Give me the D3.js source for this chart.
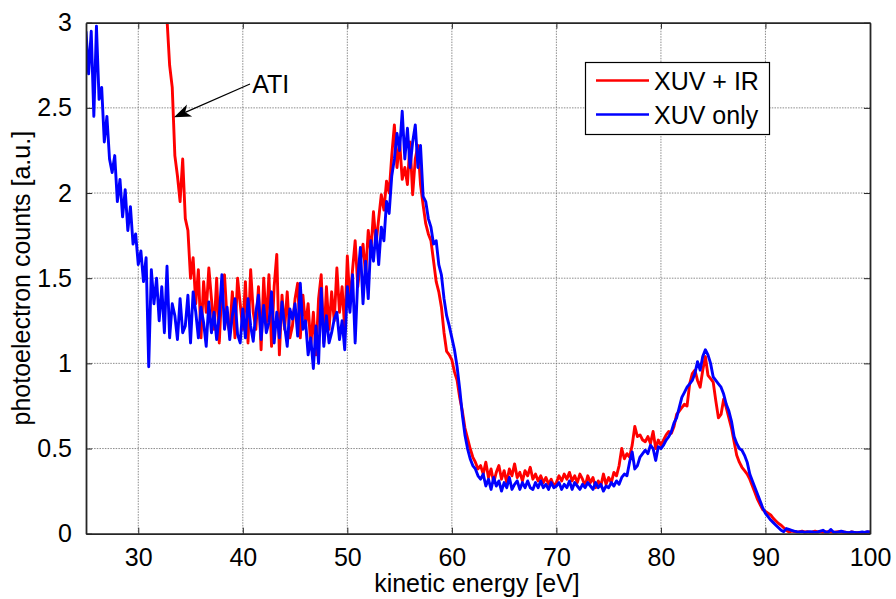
<!DOCTYPE html>
<html><head><meta charset="utf-8">
<script src="https://cdn.jsdelivr.net/npm/d3@7"></script>
<style>
body{margin:0;background:#fff;}
svg text{font-family:"Liberation Sans",Arial,sans-serif;fill:#000;}
</style></head><body>
<svg id="chart" width="896" height="599"></svg>
<script>
// ---------- data (energy grid step 0.25 eV) ----------
const energyStep = 0.25;
const xuvOnlyStart = 25;
const xuvOnly = [
 2.95,2.70,2.95,2.45, 2.98,2.55,2.62,2.30, 2.45,2.20,2.12,2.22, 1.95,2.08,1.86,2.02, // 25-28
 1.78,1.92,1.70,1.76, 1.58,1.66,1.48,1.62, 0.98,1.55,1.35,1.50, 1.25,1.45,1.18,1.57, // 29-32
 1.15,1.35,1.28,1.14, 1.38,1.18,1.22,1.40, 1.12,1.42,1.30,1.15, 1.33,1.24,1.10,1.36, // 33-36
 1.18,1.30,1.14,1.28, 1.52,1.20,1.33,1.14, 1.28,1.38,1.17,1.12, 1.32,1.15,1.38,1.22, // 37-40
 1.13,1.30,1.40,1.14, 1.34,1.18,1.24,1.42, 1.12,1.30,1.15,1.36, 1.22,1.10,1.32,1.26, // 41-44
 1.35,1.16,1.47,1.20, 1.25,1.05,1.15,0.97, 1.22,1.00,1.44,1.10, 1.28,1.12,1.18,1.26, // 45-48
 1.30,1.14,1.25,1.08, 1.45,1.30,1.52,1.12, 1.50,1.68,1.35,1.60, 1.38,1.72,1.60,1.78, // 49-52
 1.58,1.80,1.72,1.95, 1.88,2.10,2.20,2.35, 2.25,2.48,2.20,2.38, 2.15,2.30,2.40,2.15, // 53-56
 2.28,1.98,1.95,1.85, 1.80,1.70,1.72,1.58, 1.52,1.38,1.28,1.22, 1.15,1.08,0.98,0.85, // 57-60
 0.70,0.58,0.50,0.44, 0.40,0.38,0.34,0.32, 0.35,0.28,0.32,0.26, 0.33,0.28,0.31,0.25, // 61-64
 0.30,0.27,0.33,0.26, 0.29,0.31,0.26,0.30, 0.27,0.31,0.27,0.26, 0.30,0.27,0.31,0.27, // 65-68
 0.29,0.26,0.30,0.27, 0.28,0.30,0.26,0.29, 0.27,0.31,0.26,0.30, 0.28,0.26,0.29,0.27, // 69-72
 0.30,0.28,0.26,0.30, 0.27,0.29,0.25,0.28, 0.27,0.30,0.28,0.31, 0.29,0.33,0.35,0.34, // 73-76
 0.42,0.48,0.38,0.40, 0.45,0.47,0.49,0.47, 0.52,0.50,0.43,0.51, 0.50,0.52,0.55,0.57, // 77-80
 0.60,0.65,0.68,0.74, 0.80,0.83,0.86,0.88, 0.90,0.94,1.01,0.96, 1.04,1.08,1.05,1.00, // 81-84
 0.92,0.90,0.88,0.86, 0.82,0.76,0.72,0.66, 0.57,0.53,0.50,0.49, 0.46,0.42,0.35,0.31, // 85-88
 0.27,0.23,0.19,0.15, 0.12,0.10,0.08,0.065, 0.05,0.035,0.02,0.012, 0.03,0.025,0.02,0.015, // 89-92
 0.012,0.01,0.012,0.008, 0.01,0.012,0.01,0.008, 0.01,0.015,0.02,0.01, 0.008,0.025,0.01,0.008, // 93-96
 0.01,0.015,0.01,0.008, 0.006,0.01,0.008,0.006, 0.008,0.01,0.008,0.012, 0.01 // 97-100
];
const xuvIRStart = 32.75;
const xuvIR = [
 3.02, // 32.75
 2.75,2.62,2.22,2.10, 1.95,2.20,1.85,1.78, 1.50,1.62,1.35,1.55, 1.15,1.48,1.30,1.56, // 33-36
 1.38,1.20,1.50,1.12, 1.45,1.52,1.25,1.18, 1.42,1.15,1.50,1.35, 1.20,1.48,1.12,1.55, // 37-40
 1.30,1.20,1.45,1.08, 1.50,1.22,1.52,1.10, 1.45,1.64,1.05,1.40, 1.20,1.42,1.15,1.22, // 41-44
 1.38,1.47,1.15,1.40, 1.22,1.35,1.10,1.30, 1.05,1.38,1.52,1.12, 1.45,1.20,1.42,1.25, // 45-48
 1.56,1.30,1.45,1.20, 1.63,1.35,1.55,1.72, 1.45,1.60,1.70,1.52, 1.78,1.65,1.89,1.70, // 49-52
 1.85,1.99,1.90,2.07, 2.00,2.22,2.40,2.15, 2.30,2.08,2.15,2.05, 2.30,1.99,2.20,2.28, // 53-56
 2.05,1.93,1.82,1.76, 1.72,1.60,1.48,1.42, 1.33,1.18,1.07,1.05, 1.02,0.95,0.90,0.80, // 57-60
 0.72,0.62,0.56,0.50, 0.45,0.42,0.38,0.40, 0.35,0.42,0.33,0.38, 0.30,0.36,0.40,0.32, // 61-64
 0.37,0.30,0.38,0.34, 0.41,0.33,0.36,0.31, 0.37,0.34,0.39,0.32, 0.35,0.31,0.34,0.30, // 65-68
 0.33,0.29,0.32,0.28, 0.30,0.34,0.31,0.35, 0.32,0.36,0.31,0.34, 0.30,0.35,0.32,0.28, // 69-72
 0.34,0.30,0.33,0.27, 0.31,0.28,0.35,0.29, 0.33,0.30,0.36,0.34, 0.40,0.50,0.44,0.47, // 73-76
 0.45,0.52,0.63,0.57, 0.58,0.55,0.54,0.57, 0.53,0.60,0.50,0.55, 0.52,0.55,0.58,0.60, // 77-80
 0.59,0.63,0.70,0.72, 0.74,0.76,0.75,0.88, 0.94,0.96,0.90,0.86, 0.96,1.04,0.93,0.91, // 81-84
 0.89,0.78,0.68,0.70, 0.79,0.74,0.68,0.62, 0.54,0.46,0.42,0.39, 0.37,0.35,0.32,0.28, // 85-88
 0.24,0.20,0.17,0.14, 0.13,0.12,0.11,0.09, 0.075,0.06,0.05,0.035, 0.02,0.01,0.015,0.012, // 89-92
 0.01,0.012,0.015,0.01, 0.012,0.008,0.01,0.015, 0.01,0.012,0.008,0.01, 0.012,0.01,0.008,0.01, // 93-96
 0.012,0.008,0.01,0.008, 0.006,0.01,0.008,0.006, 0.008,0.006,0.008,0.01, 0.008 // 97-100
];
const xTickValues = [30,40,50,60,70,80,90,100];
const yTickValues = [0,0.5,1,1.5,2,2.5,3];
const yTickLabels = ["0","0.5","1","1.5","2","2.5","3"];
const seriesNames = ["XUV + IR","XUV only"];
const seriesColors = ["#ff0000","#0000ff"];
const xLabel = "kinetic energy [eV]";
const yLabel = "photoelectron counts [a.u.]";
const annotText = "ATI";
const annotTip = [33.42, 2.445];
const annotTail = [40.69, 2.64];
const annotTextPos = [40.9, 2.585];

// ---------- layout ----------
const W = 896, H = 599;
const plot = {left: 86, right: 870, top: 22.7, bottom: 533.7};
const svg = d3.select("#chart");
const x = d3.scaleLinear().domain([25,100]).range([plot.left, plot.right]);
const y = d3.scaleLinear().domain([0,3]).range([plot.bottom, plot.top]);
const FS = 25;

function toPoints(start, arr){ return arr.map((v,i)=>[start + i*energyStep, v]); }
const redPts = toPoints(xuvIRStart, xuvIR);
const bluePts = toPoints(xuvOnlyStart, xuvOnly);

svg.append("rect").attr("width",W).attr("height",H).attr("fill","#fff");

// grid
const grid = svg.append("g").attr("stroke","#404040").attr("stroke-width",0.8).attr("stroke-dasharray","1.5,1.2").attr("opacity",0.75);
grid.selectAll("line.v").data(xTickValues.filter(d=>d<100)).join("line")
  .attr("x1",d=>x(d)).attr("x2",d=>x(d)).attr("y1",plot.top).attr("y2",plot.bottom);
grid.selectAll("line.h").data(yTickValues.filter(d=>d>0&&d<3)).join("line")
  .attr("x1",plot.left).attr("x2",plot.right).attr("y1",d=>y(d)).attr("y2",d=>y(d));

svg.append("clipPath").attr("id","clip").append("rect")
  .attr("x",plot.left).attr("y",plot.top).attr("width",plot.right-plot.left).attr("height",plot.bottom-plot.top);

const line = d3.line().x(d=>x(d[0])).y(d=>y(d[1]));
const lines = svg.append("g").attr("clip-path","url(#clip)");
lines.append("path").datum(redPts).attr("d",line).attr("fill","none")
  .attr("stroke",seriesColors[0]).attr("stroke-width",2.9).attr("stroke-linejoin","round");
lines.append("path").datum(bluePts).attr("d",line).attr("fill","none")
  .attr("stroke",seriesColors[1]).attr("stroke-width",2.9).attr("stroke-linejoin","round");

// axes (box with inward ticks)
const tickLen = 6;
const axisColor = "#262626";
const xb = svg.append("g").attr("transform",`translate(0,${plot.bottom})`)
  .call(d3.axisBottom(x).tickValues(xTickValues).tickSizeInner(-tickLen).tickSizeOuter(0).tickPadding(15));
const xt = svg.append("g").attr("transform",`translate(0,${plot.top})`)
  .call(d3.axisTop(x).tickValues(xTickValues).tickSizeInner(-tickLen).tickSizeOuter(0).tickFormat(""));
const yl = svg.append("g").attr("transform",`translate(${plot.left},0)`)
  .call(d3.axisLeft(y).tickValues(yTickValues).tickFormat((d,i)=>yTickLabels[i]).tickSizeInner(-tickLen).tickSizeOuter(0).tickPadding(14));
const yr = svg.append("g").attr("transform",`translate(${plot.right},0)`)
  .call(d3.axisRight(y).tickValues(yTickValues).tickSizeInner(-tickLen).tickSizeOuter(0).tickFormat(""));
[xb,xt,yl,yr].forEach(g=>{
  g.selectAll("path.domain").attr("stroke",axisColor).attr("stroke-width",1.8);
  g.selectAll(".tick line").attr("stroke",axisColor).attr("stroke-width",1);
  g.selectAll("text").attr("font-size",FS).attr("font-family","Liberation Sans, Arial, sans-serif").attr("fill","#000");
});
xb.selectAll("text").attr("dy","0.71em");

// axis labels
svg.append("text").attr("x",(plot.left+plot.right)/2 - 1).attr("y",592).attr("text-anchor","middle")
  .attr("font-size",FS).text(xLabel);
svg.append("text").attr("transform",`translate(30,${(plot.top+plot.bottom)/2}) rotate(-90)`)
  .attr("text-anchor","middle").attr("font-size",FS).text(yLabel);

// annotation arrow
const tip = [x(annotTip[0]), y(annotTip[1])];
const tail = [x(annotTail[0]), y(annotTail[1])];
const ang = Math.atan2(tip[1]-tail[1], tip[0]-tail[0]);
const headL = 17, headW = 6.5;
const base = [tip[0]-headL*Math.cos(ang), tip[1]-headL*Math.sin(ang)];
const notch = [tip[0]-headL*0.72*Math.cos(ang), tip[1]-headL*0.72*Math.sin(ang)];
svg.append("line").attr("x1",tail[0]).attr("y1",tail[1]).attr("x2",notch[0]).attr("y2",notch[1])
  .attr("stroke","#000").attr("stroke-width",1.2);
const p1 = [base[0]+headW*Math.sin(ang), base[1]-headW*Math.cos(ang)];
const p2 = [base[0]-headW*Math.sin(ang), base[1]+headW*Math.cos(ang)];
svg.append("path").attr("d",`M${tip}L${p1}L${notch}L${p2}Z`).attr("fill","#000");
svg.append("text").attr("x",x(annotTextPos[0])).attr("y",y(annotTextPos[1]))
  .attr("font-size",FS).text(annotText);

// legend
const lg = svg.append("g");
lg.append("rect").attr("x",585.5).attr("y",62.5).attr("width",184).attr("height",72)
  .attr("fill","#fff").attr("stroke","#000").attr("stroke-width",1.2);
seriesNames.forEach((name,i)=>{
  const cy = 80.5 + i*34;
  lg.append("line").attr("x1",596).attr("x2",649).attr("y1",cy).attr("y2",cy)
    .attr("stroke",seriesColors[i]).attr("stroke-width",2.6);
  lg.append("text").attr("x",654).attr("y",cy+9).attr("font-size",FS).text(name);
});
</script>
</body></html>
